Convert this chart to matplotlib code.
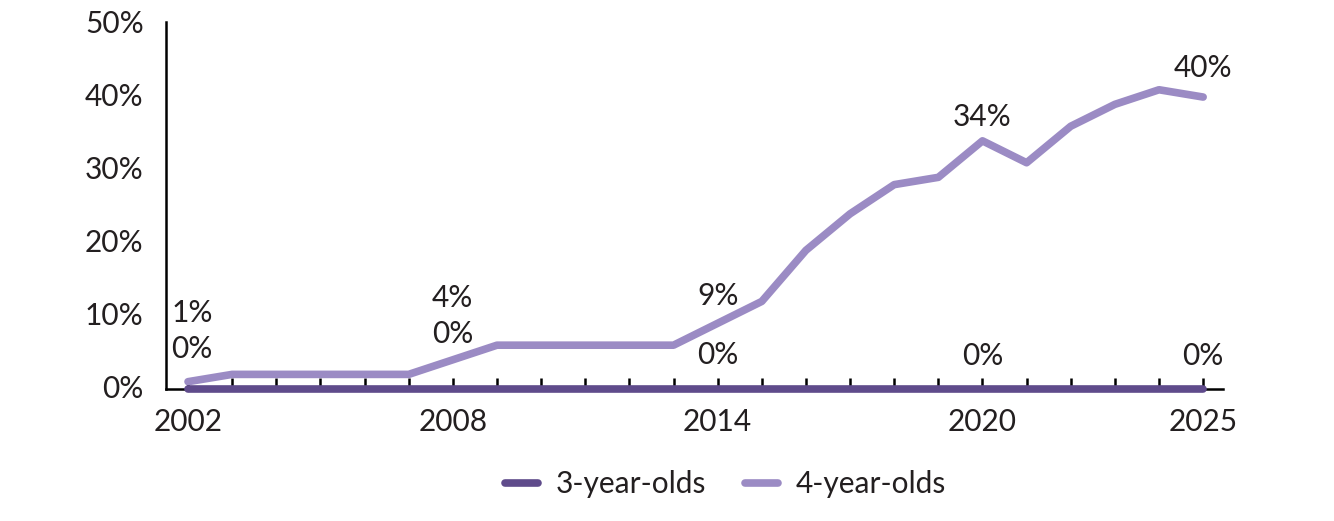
import matplotlib.pyplot as plt
from matplotlib.ticker import FuncFormatter

years = list(range(2002, 2026))
three_year_olds = [0] * 24
four_year_olds = [1, 2, 2, 2, 2, 2, 4, 6, 6, 6, 6, 6, 9, 12, 19, 24, 28, 29, 34, 31, 36, 39, 41, 40]
label_years = [2002, 2008, 2014, 2020, 2025]

# label offsets in pixels (dx, dy) above each labelled point
four_offsets = [(4, 69), (0, 62), (0, 27), (0, 24), (0, 29)]
three_offsets = [(4, 40), (0, 55), (0, 34), (0, 33), (0, 33)]

dark = "#5f4b8b"
light = "#9b8bc4"
txt = "#231f20"

plt.rcParams['font.family'] = ['Lato', 'DejaVu Sans']

fig = plt.figure(figsize=(13.34, 5.21), dpi=100)
ax = fig.add_axes([0.1244, 0.2534, 0.7924, 0.7046])

ax.plot(years, three_year_olds, color=dark, lw=5.5, solid_capstyle='round', label='3-year-olds',
        zorder=4, clip_on=False)
ax.plot(years, four_year_olds, color=light, lw=5.5, solid_capstyle='round', label='4-year-olds',
        zorder=3, clip_on=False)

for yr, off3, off4 in zip(label_years, three_offsets, four_offsets):
    i = years.index(yr)
    ax.annotate(f"{four_year_olds[i]}%", (yr, four_year_olds[i]), xytext=off4,
                textcoords='offset pixels', ha='center', va='center', fontsize=21.5, color=txt)
    ax.annotate(f"{three_year_olds[i]}%", (yr, three_year_olds[i]), xytext=off3,
                textcoords='offset pixels', ha='center', va='center', fontsize=21.5, color=txt)

ax.set_xlim(2001.5, 2025.45)
ax.set_ylim(0, 50.3)
ax.set_yticks(range(0, 51, 10))
ax.yaxis.set_major_formatter(FuncFormatter(lambda v, p: f"{int(v)}%"))
ax.set_xticks(years)
ax.set_xticklabels([str(y) if y in label_years else "" for y in years])

for s in ['top', 'right']:
    ax.spines[s].set_visible(False)
for s in ['left', 'bottom']:
    ax.spines[s].set_linewidth(1.8)
    ax.spines[s].set_color('black')

ax.tick_params(axis='x', direction='in', length=8, width=1.8, pad=14, labelsize=21.5, labelcolor=txt)
ax.tick_params(axis='y', length=0, pad=16, labelsize=21.5, labelcolor=txt)
for lab in ax.get_yticklabels():
    lab.set_verticalalignment('center')

leg = fig.legend(loc='center', bbox_to_anchor=(0.544, 0.071), ncol=2, frameon=False,
                 fontsize=21.5, handlelength=1.1, columnspacing=1.3, handletextpad=0.6)
for t in leg.get_texts():
    t.set_color(txt)

fig.savefig("out.png", dpi=100)
